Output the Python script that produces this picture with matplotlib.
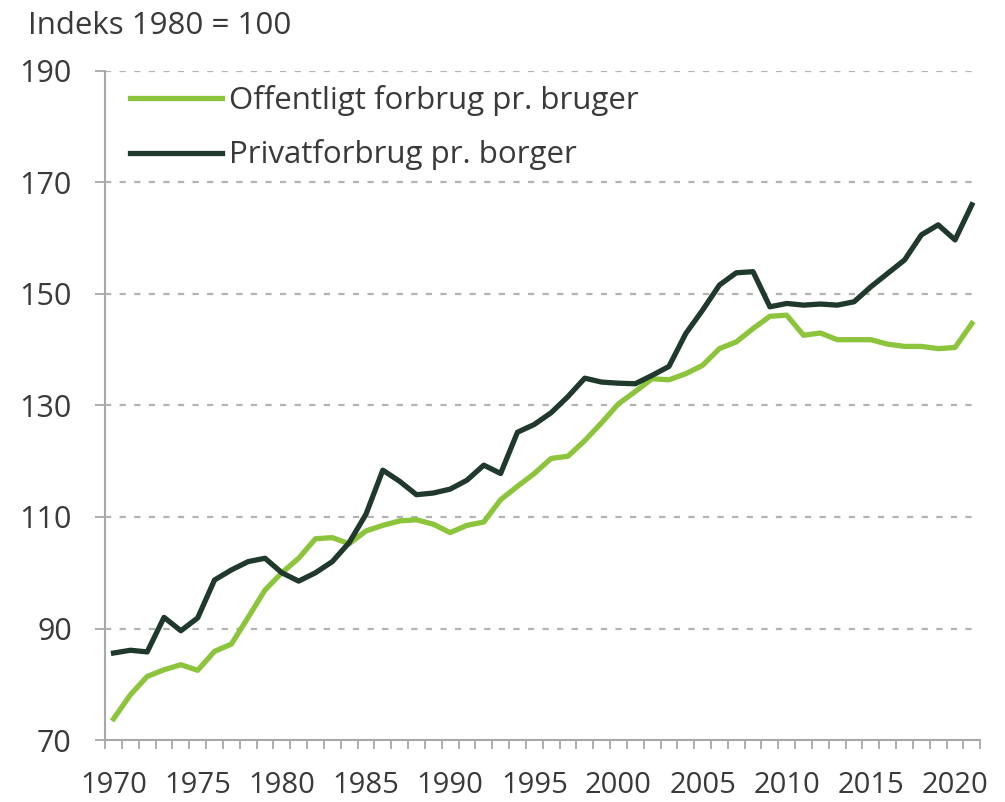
import matplotlib
matplotlib.use("Agg")
import matplotlib.pyplot as plt
from matplotlib import font_manager
from matplotlib.ticker import MultipleLocator

years = list(range(1970, 2022))

offentligt = [73.8, 78.1, 81.4, 82.6, 83.5, 82.5, 85.9, 87.2, 92.0, 96.9,
              100.0, 102.6, 106.1, 106.3, 105.2, 107.5, 108.5, 109.3, 109.5, 108.7,
              107.2, 108.5, 109.1, 113.1, 115.5, 117.8, 120.5, 120.9, 123.7, 126.9,
              130.3, 132.5, 134.8, 134.6, 135.7, 137.2, 140.2, 141.4, 143.8, 146.0,
              146.2, 142.6, 143.0, 141.8, 141.8, 141.8, 141.0, 140.6, 140.6, 140.2,
              140.4, 144.7]

privat = [85.6, 86.1, 85.8, 92.0, 89.6, 91.9, 98.7, 100.5, 102.0, 102.6,
          100.0, 98.5, 100.0, 102.0, 105.4, 110.5, 118.4, 116.4, 114.0, 114.3,
          115.0, 116.6, 119.3, 117.8, 125.2, 126.6, 128.7, 131.6, 134.9, 134.2,
          134.0, 133.9, 135.4, 137.0, 142.9, 147.1, 151.6, 153.8, 154.0, 147.7,
          148.3, 148.0, 148.2, 148.0, 148.6, 151.3, 153.7, 156.1, 160.6, 162.4,
          159.7, 166.0]

labels = ["Offentligt forbrug pr. bruger", "Privatforbrug pr. borger"]
colors = ["#8cc43c", "#1f3a2c"]
y_ticks = [70, 90, 110, 130, 150, 170, 190]
x_ticks = list(range(1970, 2021, 5))

installed = {f.name for f in font_manager.fontManager.ttflist}
main_font = "Open Sans" if "Open Sans" in installed else "DejaVu Sans"

plt.rcParams["font.family"] = [main_font, "DejaVu Sans"]
plt.rcParams["lines.scale_dashes"] = False
text_color = "#3a3a3a"
axis_color = "#a8a8a8"

fig = plt.figure(figsize=(10.05, 8.02), dpi=100)
ax = fig.add_axes([0.1046, 0.0773, 0.8708, 0.8342])

for vals, lab, col in zip([offentligt, privat], labels, colors):
    ax.plot(years, vals, color=col, lw=3.8, label=lab, solid_joinstyle="round", zorder=3)

ax.set_xlim(1969.5, 2021.5)
ax.set_ylim(70, 190)
ax.set_yticks(y_ticks)
ax.set_xticks(x_ticks)
ax.xaxis.set_minor_locator(MultipleLocator(1, offset=0.5))

# dashed grid, the 70 line is the axis itself
for y in y_ticks[1:]:
    ax.axhline(y, color="#b3b3b3", lw=1.6, ls=(0, (4.5, 6)), zorder=1)

for side in ["top", "right"]:
    ax.spines[side].set_visible(False)
for side in ["left", "bottom"]:
    ax.spines[side].set_color(axis_color)
    ax.spines[side].set_linewidth(1.5)

ax.tick_params(axis="y", direction="out", length=7, width=1.3, color=axis_color,
               pad=17, labelsize=22, labelcolor=text_color)
ax.tick_params(axis="x", which="major", length=0, pad=22, labelsize=21,
               labelcolor=text_color)
ax.tick_params(axis="x", which="minor", direction="out", length=6.5, width=1.3,
               color=axis_color)

leg = ax.legend(loc="upper left", bbox_to_anchor=(0.028, 0.979), frameon=False,
                fontsize=22.5, handlelength=2.95, handletextpad=0.22, labelspacing=0.75,
                borderaxespad=0, borderpad=0)
for t in leg.get_texts():
    t.set_color(text_color)

fig.text(0.028, 0.957, "Indeks 1980 = 100", fontsize=22.5, color=text_color,
         ha="left", va="baseline")

fig.savefig("out.png", dpi=100)
